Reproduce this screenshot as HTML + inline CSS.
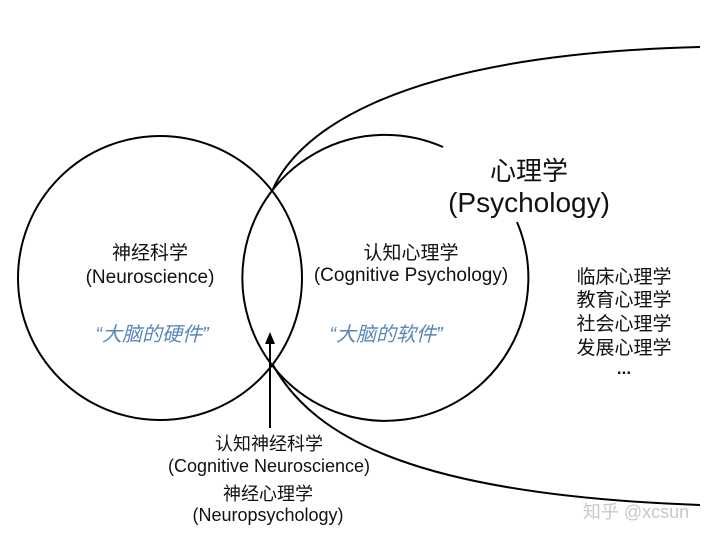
<!DOCTYPE html>
<html><head><meta charset="utf-8"><style>
body{margin:0;background:#fff;}
svg text{font-family:"Liberation Sans","Noto Sans CJK SC",sans-serif;fill:#111;}
</style></head><body>
<svg width="720" height="540" viewBox="0 0 720 540" xmlns="http://www.w3.org/2000/svg">
<g fill="none" stroke="#000" stroke-width="2">
<circle cx="160" cy="278" r="142"/>
<path d="M443 147 A143 143 0 1 0 517 222"/>
<path d="M273 189 C295 140 380 55 700 47"/>
<path d="M273 365 C315 440 420 495 700 505"/>
<line x1="270" y1="428" x2="270" y2="340"/>
</g>
<path d="M270 332 L265 344 L275 344 Z" fill="#000"/>
<g text-anchor="middle" font-size="19">
<text x="150" y="259">神经科学</text>
<text x="150" y="283">(Neuroscience)</text>
<text x="411" y="259">认知心理学</text>
<text x="411" y="281">(Cognitive Psychology)</text>
<text x="529" y="180" font-size="26">心理学</text>
<text x="529" y="212" font-size="28">(Psychology)</text>
<text x="624" y="283">临床心理学</text>
<text x="624" y="306">教育心理学</text>
<text x="624" y="330">社会心理学</text>
<text x="624" y="354">发展心理学</text>
<text x="624" y="374" font-weight="bold" font-size="17">...</text>
<g font-size="18">
<text x="269" y="450">认知神经科学</text>
<text x="269" y="472">(Cognitive Neuroscience)</text>
<text x="268" y="500">神经心理学</text>
<text x="268" y="521">(Neuropsychology)</text>
</g>
<text x="152" y="341" font-size="20" font-style="italic" style="fill:#5b86b8">“大脑的硬件”</text>
<text x="386" y="341" font-size="20" font-style="italic" style="fill:#5b86b8">“大脑的软件”</text>
<text x="636" y="518" font-size="18" style="fill:#c8c8c8">知乎 @xcsun</text>
</g>
</svg>
</body></html>
